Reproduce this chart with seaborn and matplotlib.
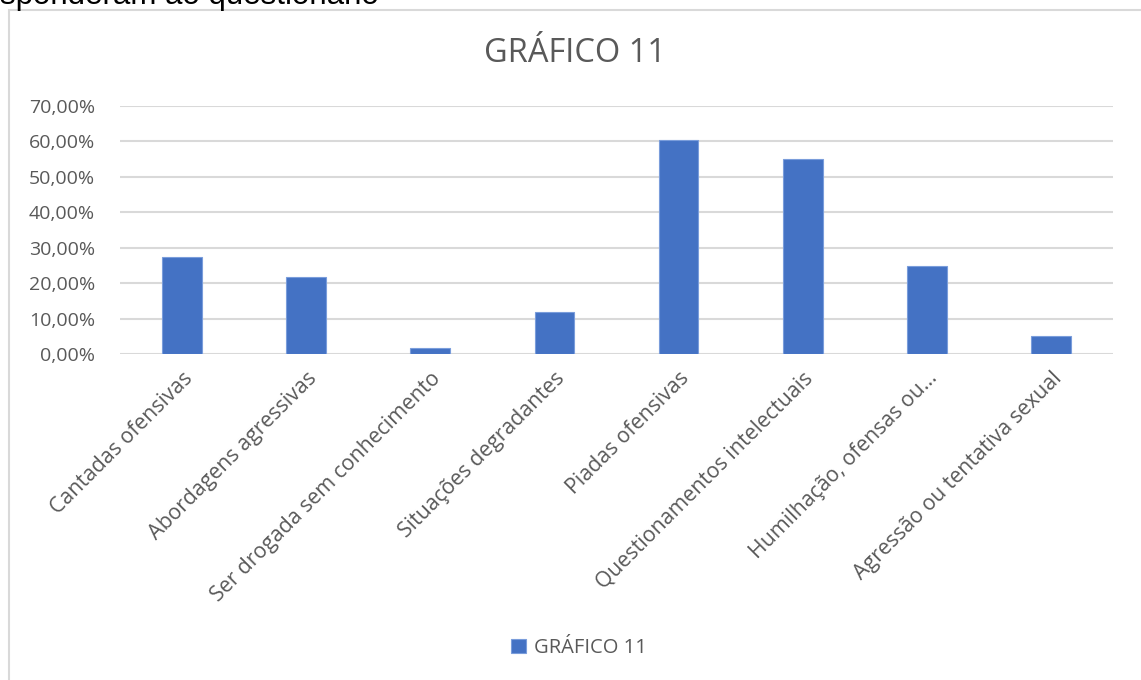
import matplotlib
matplotlib.use("Agg")
import matplotlib.pyplot as plt
from matplotlib.patches import Rectangle
from matplotlib.ticker import FuncFormatter
import seaborn as sns
import pandas as pd

categories = [
    "Cantadas ofensivas",
    "Abordagens agressivas",
    "Ser drogada sem conhecimento",
    "Situações degradantes",
    "Piadas ofensivas",
    "Questionamentos intelectuais",
    "Humilhação, ofensas ou...",
    "Agressão ou tentativa sexual",
]
values = [0.274, 0.217, 0.017, 0.118, 0.605, 0.550, 0.249, 0.050]
series_name = "GRÁFICO 11"
y_ticks = [0.0, 0.1, 0.2, 0.3, 0.4, 0.5, 0.6, 0.7]

df = pd.DataFrame({"categoria": categories, "valor": values, "serie": series_name})

sns.set_theme(style="white")
plt.rcParams["font.family"] = ["Open Sans", "DejaVu Sans"]

W, H = 1141, 680
fig = plt.figure(figsize=(W / 100, H / 100), dpi=100)
fig.patch.set_facecolor("white")

# chart frame (continues past the right and bottom edges)
fig.patches.append(Rectangle((9 / W, -0.2), 1.2, 1.2 - 10 / H,
                             transform=fig.transFigure, fill=False,
                             edgecolor="#d9d9d9", linewidth=1.5))
# end of the document sentence above the chart
fig.text(0.0, 1 - 4 / H, "sponderam ao questionário", fontsize=22.5,
         color="black", va="baseline", ha="left",
         family=["Liberation Sans", "DejaVu Sans"])

ax = fig.add_axes([120 / W, 1 - 354 / H, (1113 - 120) / W, (354 - 106) / H])
sns.barplot(data=df, x="categoria", y="valor", hue="serie",
            palette=["#4472c4"], saturation=1, width=0.32, ax=ax,
            edgecolor="#7a9ddb", linewidth=0.8)

ax.set_ylim(0, 0.7)
ax.set_xlim(-0.5, len(categories) - 0.5)
ax.set_yticks(y_ticks)
ax.yaxis.set_major_formatter(FuncFormatter(lambda v, p: f"{v * 100:.2f}%".replace(".", ",")))
ax.grid(axis="y", color="#d9d9d9", linewidth=1.5)
ax.set_axisbelow(True)
for s in ax.spines.values():
    s.set_visible(False)
ax.tick_params(axis="y", length=0, colors="#595959", labelsize=14, pad=18)
ax.tick_params(axis="x", length=0, colors="#595959", labelsize=15.3, pad=10)
ax.set_xlabel("")
ax.set_ylabel("")
plt.setp(ax.get_xticklabels(), rotation=45, ha="right", rotation_mode="anchor")

fig.text(575 / W, 1 - 53 / H, "GRÁFICO 11", fontsize=23.5, color="#595959",
         ha="center", va="center")

leg = ax.legend(loc="center", bbox_to_anchor=(579 / W, 1 - 648 / H),
                bbox_transform=fig.transFigure, frameon=False,
                fontsize=14.5, handlelength=0.75, handleheight=0.75,
                handletextpad=0.4)
for t in leg.get_texts():
    t.set_color("#595959")

fig.savefig("out.png", dpi=100)
